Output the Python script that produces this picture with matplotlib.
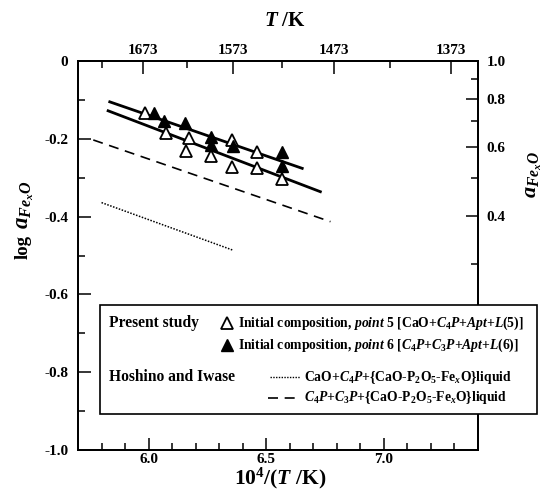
import numpy as np
import matplotlib
matplotlib.use("Agg")
import matplotlib.pyplot as plt
import matplotlib.patches as patches
from matplotlib.lines import Line2D

plt.rcParams['font.family'] = 'serif'
plt.rcParams['font.serif'] = ['Liberation Serif', 'DejaVu Serif']
plt.rcParams['font.weight'] = 'bold'
plt.rcParams['mathtext.fontset'] = 'custom'
plt.rcParams['mathtext.rm'] = 'Liberation Serif:bold'
plt.rcParams['mathtext.it'] = 'Liberation Serif:italic:bold'
plt.rcParams['mathtext.bf'] = 'Liberation Serif:bold'

# present study, point 5 (open) and point 6 (filled)
x_p5 = [5.983, 6.075, 6.171, 6.160, 6.265, 6.354, 6.354, 6.462, 6.462, 6.568]
y_p5 = [-0.133, -0.186, -0.197, -0.231, -0.244, -0.203, -0.273, -0.235, -0.276, -0.304]
x_p6 = [6.023, 6.064, 6.155, 6.265, 6.265, 6.360, 6.566, 6.566]
y_p6 = [-0.133, -0.154, -0.159, -0.195, -0.216, -0.219, -0.233, -0.270]

# fitted lines
x_fit5 = [5.828, 6.730]
y_fit5 = [-0.128, -0.336]
x_fit6 = [5.835, 6.653]
y_fit6 = [-0.105, -0.276]

# Hoshino and Iwase
x_hi_cao = [5.800, 6.357]
y_hi_cao = [-0.364, -0.486]
x_hi_c3p = [5.765, 6.773]
y_hi_c3p = [-0.203, -0.413]

temp_major = [1673, 1573, 1473, 1373]
temp_minor = [1723, 1623, 1523, 1423]
act_major = [1.0, 0.8, 0.6, 0.4]
act_minor = [0.9, 0.7, 0.5, 0.3]

W, H = 544, 497
fig = plt.figure(figsize=(W / 100, H / 100), dpi=100)


def fx(px):
    return px / W


def fy(py):
    return 1 - py / H


ax = fig.add_axes([fx(78), fy(450), 400 / W, 389 / H])

ax.plot(x_fit6, y_fit6, color='black', lw=2.0, zorder=2)
ax.plot(x_fit5, y_fit5, color='black', lw=2.0, zorder=2)
ax.plot(x_hi_c3p, y_hi_c3p, color='black', lw=1.2, dashes=(6, 4), zorder=2)
ax.plot(x_hi_cao, y_hi_cao, color='black', lw=1.1, ls=(0, (1, 1)), zorder=2)
ax.plot(x_p5, y_p5, ls='none', marker='^', ms=8, mfc='white', mec='black', mew=1.3, zorder=3)
ax.plot(x_p6, y_p6, ls='none', marker='^', ms=8, mfc='black', mec='black', mew=1.0, zorder=4)

ax.set_xlim(5.7, 7.4)
ax.set_ylim(-1.0, 0)
ax.set_xticks([6.0, 6.5, 7.0])
ax.set_xticks(np.arange(5.8, 7.35, 0.1), minor=True)
ax.set_yticks([0, -0.2, -0.4, -0.6, -0.8, -1.0])
ax.set_yticklabels(['0', '-0.2', '-0.4', '-0.6', '-0.8', '-1.0'])
ax.set_yticks([-0.1, -0.3, -0.5, -0.7, -0.9], minor=True)

for s in ax.spines.values():
    s.set_linewidth(1.2)

tick_kw = dict(direction='in', width=1.1, labelsize=11)
ax.tick_params(which='major', length=9, pad=2, **tick_kw)
ax.tick_params(which='minor', length=5, direction='in', width=1.1)
ax.tick_params(axis='y', pad=7)

# top axis: temperature
axt = ax.twiny()
axt.set_xlim(ax.get_xlim())
axt.set_xticks([1e4 / t for t in temp_major])
axt.set_xticklabels([str(t) for t in temp_major])
axt.set_xticks([1e4 / t for t in temp_minor], minor=True)
axt.tick_params(which='major', length=9, pad=3, **tick_kw)
axt.tick_params(which='minor', length=5, direction='in', width=1.1)

# right axis: activity
axr = ax.twinx()
axr.set_ylim(ax.get_ylim())
axr.set_yticks([np.log10(a) for a in act_major])
axr.set_yticklabels(['%.1f' % a for a in act_major])
axr.set_yticks([np.log10(a) for a in act_minor], minor=True)
axr.tick_params(which='major', length=9, pad=6, **tick_kw)
axr.tick_params(which='minor', length=5, direction='in', width=1.1)
for a in (axt, axr):
    for s in a.spines.values():
        s.set_linewidth(1.2)

# axis labels
fig.text(fx(280), fy(484), r'10$^4$/($T$ /K)', fontsize=15.5, ha='center', va='baseline')
fig.text(fx(285), fy(21), r'$T$ /K', fontsize=15, ha='center', va='center')
fig.text(fx(23), fy(247), 'log', fontsize=13.5, rotation=90, ha='center', va='center')
fig.text(fx(25), fy(205), r'$a_{Fe_xO}$', fontsize=16.5, rotation=90, ha='center', va='center')
fig.text(fx(534), fy(175), r'$a_{Fe_xO}$', fontsize=16, rotation=90, ha='center', va='center')

# legend box, drawn over the right spine like the original
box = patches.Rectangle((fx(100), fy(414)), (537 - 100) / W, (414 - 305) / H,
                        transform=fig.transFigure, facecolor='white',
                        edgecolor='black', lw=1.2, zorder=5)
fig.add_artist(box)

lg = dict(fontsize=9.8, ha='left', va='center', zorder=6)
fig.text(fx(109), fy(323), 'Present study', fontsize=11.2, ha='left', va='center', zorder=6)
fig.text(fx(109), fy(377), 'Hoshino and Iwase', fontsize=11.2, ha='left', va='center', zorder=6)

fig.add_artist(Line2D([fx(227)], [fy(323)], marker='^', ms=8, mfc='white', mec='black',
                      mew=1.3, ls='none', transform=fig.transFigure, zorder=6))
fig.add_artist(Line2D([fx(227)], [fy(345)], marker='^', ms=8, mfc='black', mec='black',
                      ls='none', transform=fig.transFigure, zorder=6))
fig.text(fx(238), fy(323),
         r'Initial composition, $point\ 5$ [CaO+$C_4P$+$Apt$+$\mathit{L(5)}$]', **lg)
fig.text(fx(238), fy(345),
         r'Initial composition, $point\ 6$ [$C_4P$+$C_3P$+$Apt$+$\mathit{L(6)}$]', **lg)

fig.add_artist(Line2D([fx(270), fx(300)], [fy(377), fy(377)], color='black', lw=1.0,
                      ls=(0, (1, 1)), transform=fig.transFigure, zorder=6))
fig.add_artist(Line2D([fx(268), fx(300)], [fy(398), fy(398)], color='black', lw=1.2,
                      dashes=(6, 4), transform=fig.transFigure, zorder=6))
fig.text(fx(304), fy(377), r'CaO+$C_4P$+{CaO-P$_2$O$_5$-Fe$_x$O}liquid', **lg)
fig.text(fx(304), fy(398), r'$C_4P$+$C_3P$+{CaO-P$_2$O$_5$-Fe$_x$O}liquid', **lg)

fig.savefig('out.png', dpi=100)
